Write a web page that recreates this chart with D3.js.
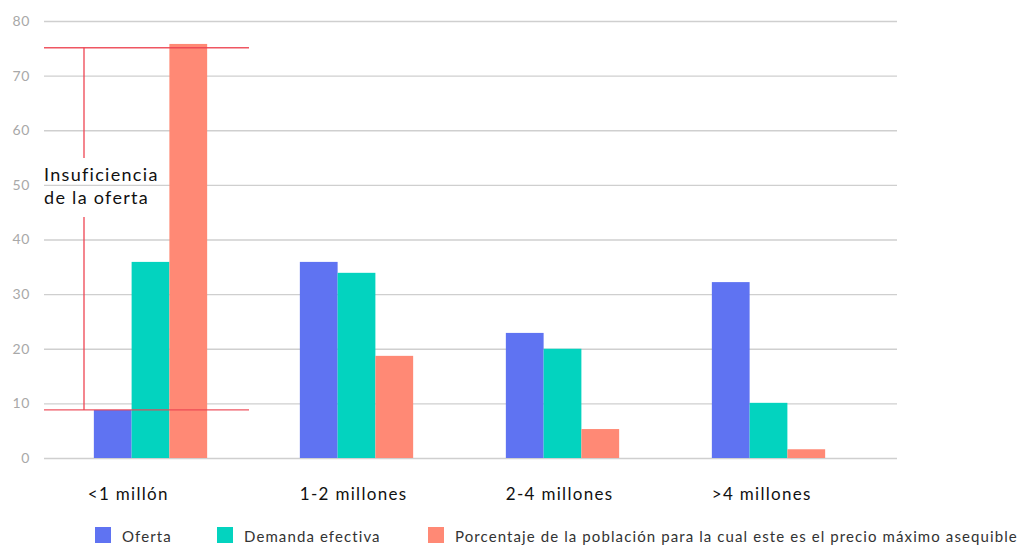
<!DOCTYPE html>
<html><head><meta charset="utf-8">
<script src="https://cdn.jsdelivr.net/npm/d3@7"></script>
<style>body{margin:0;background:#fff;} svg{display:block;font-family:Lato, "Noto Sans", sans-serif;}</style>
</head><body><svg id="c" width="1019" height="545"></svg>
<script>
const categories = ["<1 millón", "1-2 millones", "2-4 millones", ">4 millones"];
const seriesNames = ["Oferta", "Demanda efectiva", "Porcentaje de la población para la cual este es el precio máximo asequible"];
const oferta = [8.8, 35.9, 22.9, 32.2];
const demanda = [35.9, 33.9, 20.0, 10.1];
const porcentaje = [75.8, 18.7, 5.3, 1.6];
const yTicks = [0, 10, 20, 30, 40, 50, 60, 70, 80];
const gapValues = [8.8, 75.1];
const gapLabel = ["Insuficiencia", "de la oferta"];
const colors = ["#5F73F2", "#03D3BF", "#FF8975"];

const svg = d3.select("#c");
const y = d3.scaleLinear().domain([0, 80]).range([458, 21]);
const x0 = d3.scaleBand().domain(categories).range([47.5, 871.5]).paddingInner(0.45).paddingOuter(0.225);
const x1 = d3.scaleBand().domain(d3.range(3)).range([0, x0.bandwidth()]);
const series = [oferta, demanda, porcentaje];

// gridlines + y tick labels
const gy = svg.append("g").attr("transform", "translate(44,0)").call(d3.axisLeft(y).tickValues(yTicks).tickSize(-853).tickPadding(14));
gy.select(".domain").remove();
gy.selectAll(".tick line").attr("stroke", "#cfcfcf").attr("stroke-width", 1.3);
gy.selectAll(".tick text").attr("fill", "#a8a8a8").attr("font-size", 14).attr("font-family", "Lato, sans-serif").attr("letter-spacing", 0.6);

// bars
const groups = svg.append("g").selectAll("g").data(categories).join("g")
  .attr("transform", d => `translate(${x0(d)},0)`);
groups.selectAll("rect").data((d, i) => series.map((s, k) => ({k, v: s[i]}))).join("rect")
  .attr("x", d => x1(d.k)).attr("width", x1.bandwidth())
  .attr("y", d => y(d.v)).attr("height", d => y(0) - y(d.v))
  .attr("fill", d => colors[d.k]);

// category labels (left-aligned to group start)
svg.append("g").selectAll("text").data(categories).join("text")
  .attr("x", (d, i) => x0(d) + (i === 0 ? -6 : 0)).attr("y", 500)
  .attr("font-size", 17).attr("letter-spacing", 1.3).attr("fill", "#111").text(d => d);

// annotation
const red = "#EE4452";
const ann = svg.append("g");
gapValues.forEach(v => {
  ann.append("line").attr("x1", 44).attr("x2", 249).attr("y1", y(v)).attr("y2", y(v))
    .attr("stroke", red).attr("stroke-width", 1.3).attr("opacity", 0.9);
});
ann.append("line").attr("x1", 84).attr("x2", 84).attr("y1", y(gapValues[1])).attr("y2", 158).attr("stroke", red).attr("stroke-width", 1.3);
ann.append("line").attr("x1", 84).attr("x2", 84).attr("y1", 217).attr("y2", y(gapValues[0])).attr("stroke", red).attr("stroke-width", 1.3);
ann.selectAll("text").data(gapLabel).join("text")
  .attr("x", 44).attr("y", (d, i) => 181 + i * 23)
  .attr("font-size", 18).attr("letter-spacing", 1.3).attr("fill", "#111").text(d => d);

// legend
const legX = [95, 217, 428];
const leg = svg.append("g");
seriesNames.forEach((n, i) => {
  leg.append("rect").attr("x", legX[i]).attr("y", 527).attr("width", 16).attr("height", 16).attr("fill", colors[i]);
  leg.append("text").attr("x", legX[i] + 27).attr("y", 542).attr("font-size", 15).attr("letter-spacing", 1.1).attr("fill", "#333").text(n);
});
</script></body></html>
